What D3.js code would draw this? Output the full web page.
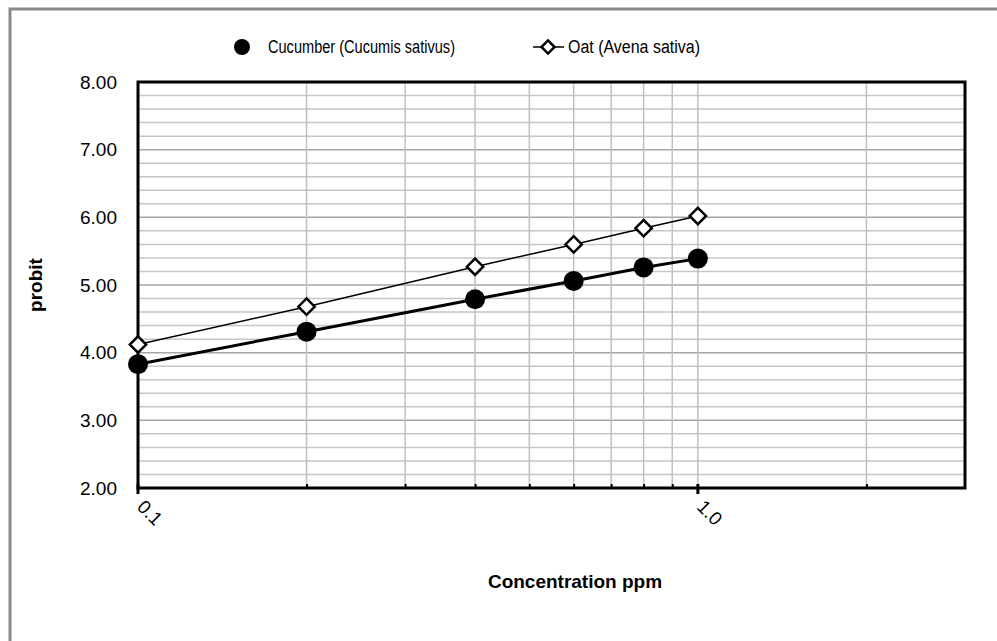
<!DOCTYPE html>
<html>
<head>
<meta charset="utf-8">
<script src="https://cdn.jsdelivr.net/npm/d3@7"></script>
<style>
    body { margin: 0; background: #fff; }
    text { font-family: Arial, 'Liberation Sans', sans-serif; }
</style>
</head>
<body>
<script>

const concentration = [0.1, 0.2, 0.4, 0.6, 0.8, 1.0]
const cucumber = [3.83, 4.31, 4.79, 5.06, 5.26, 5.39]
const oat = [4.12, 4.68, 5.27, 5.60, 5.84, 6.02]
const seriesNames = ['Cucumber (Cucumis sativus)', 'Oat (Avena  sativa)']
const xLabels = [0.1, 1.0]
const xGrid = [0.2, 0.3, 0.4, 0.5, 0.6, 0.7, 0.8, 0.9, 1, 2]
const yTicks = [2, 3, 4, 5, 6, 7, 8]

const width = 997
const height = 641
const m = { left: 138, right: 965, top: 82, bottom: 488 }

const svg = d3.select('body').append('svg')
    .attr('width', width)
    .attr('height', height)

// outer chart frame
svg.append('rect')
    .attr('x', 10).attr('y', 9)
    .attr('width', 1000).attr('height', 650)
    .attr('fill', '#fff')
    .attr('stroke', '#8a8a8a')
    .attr('stroke-width', 3)

// Scales

const x = d3.scaleLog().domain([0.1, 3]).range([m.left, m.right])
const y = d3.scaleLinear().domain([2, 8]).range([m.bottom, m.top])

// Grid

const minorY = d3.range(2, 8.01, 0.2).filter(v => Math.abs(v - Math.round(v)) > 0.01)

svg.append('g').selectAll('line')
    .data(minorY)
    .join('line')
    .attr('x1', m.left).attr('x2', m.right)
    .attr('y1', d => y(d)).attr('y2', d => y(d))
    .attr('stroke', '#c6c6c6')
    .attr('stroke-width', 1.5)

svg.append('g').selectAll('line')
    .data(yTicks)
    .join('line')
    .attr('x1', m.left).attr('x2', m.right)
    .attr('y1', d => y(d)).attr('y2', d => y(d))
    .attr('stroke', '#a6a6a6')
    .attr('stroke-width', 1.5)

svg.append('g').selectAll('line')
    .data(xGrid)
    .join('line')
    .attr('x1', d => x(d)).attr('x2', d => x(d))
    .attr('y1', m.top).attr('y2', m.bottom)
    .attr('stroke', '#c0c0c0')
    .attr('stroke-width', 1.5)

// Axes

const xAxis = d3.axisBottom(x)
    .tickValues(xGrid.filter(d => d !== 1))
    .tickSize(-4)
    .tickFormat('')

svg.append('g')
    .attr('transform', `translate(0,${m.bottom})`)
    .call(xAxis)
    .call(g => g.select('.domain').remove())
    .call(g => g.selectAll('line').attr('stroke', '#000').attr('stroke-width', 2))

// major ticks crossing the axis
svg.append('g').selectAll('line')
    .data(xLabels)
    .join('line')
    .attr('x1', d => x(d)).attr('x2', d => x(d))
    .attr('y1', m.bottom - 4).attr('y2', m.bottom + 6)
    .attr('stroke', '#000')
    .attr('stroke-width', 3)

// plot border
svg.append('rect')
    .attr('x', m.left).attr('y', m.top)
    .attr('width', m.right - m.left)
    .attr('height', m.bottom - m.top)
    .attr('fill', 'none')
    .attr('stroke', '#000')
    .attr('stroke-width', 3)

svg.append('g').selectAll('text')
    .data(yTicks)
    .join('text')
    .attr('x', 117)
    .attr('y', d => y(d))
    .attr('dy', '0.35em')
    .attr('text-anchor', 'end')
    .attr('font-size', 19)
    .text(d => d.toFixed(2))

svg.append('g').selectAll('text')
    .data(xLabels)
    .join('text')
    .attr('transform', d => `translate(${x(d) - 2},${m.bottom + 20}) rotate(45)`)
    .attr('font-size', 19)
    .text(d => d.toFixed(1))

svg.append('text')
    .attr('x', 575)
    .attr('y', 588)
    .attr('text-anchor', 'middle')
    .attr('font-size', 19)
    .attr('font-weight', 'bold')
    .text('Concentration ppm')

svg.append('text')
    .attr('transform', `translate(42,${(m.top + m.bottom) / 2}) rotate(-90)`)
    .attr('text-anchor', 'middle')
    .attr('font-size', 19)
    .attr('font-weight', 'bold')
    .text('probit')

// Series

const line = vals => d3.line()
    .x((d, i) => x(concentration[i]))
    .y(d => y(d))(vals)

svg.append('path')
    .attr('d', line(cucumber))
    .attr('fill', 'none')
    .attr('stroke', '#000')
    .attr('stroke-width', 3)

svg.append('path')
    .attr('d', line(oat))
    .attr('fill', 'none')
    .attr('stroke', '#000')
    .attr('stroke-width', 1.5)

const diamond = d3.symbol().type(d3.symbolDiamond2).size(170)

svg.append('g').selectAll('path')
    .data(oat)
    .join('path')
    .attr('transform', (d, i) => `translate(${x(concentration[i])},${y(d)})`)
    .attr('d', diamond)
    .attr('fill', '#fff')
    .attr('stroke', '#000')
    .attr('stroke-width', 2.5)

svg.append('g').selectAll('circle')
    .data(cucumber)
    .join('circle')
    .attr('cx', (d, i) => x(concentration[i]))
    .attr('cy', d => y(d))
    .attr('r', 10)
    .attr('fill', '#000')

// Legend (condensed text, as in the original)

const legend = svg.append('g').attr('transform', 'translate(0,47)')

legend.append('circle')
    .attr('cx', 242).attr('cy', 0).attr('r', 8)
    .attr('fill', '#000')

legend.append('text')
    .attr('x', 268).attr('dy', '0.35em')
    .attr('font-size', 18)
    .attr('textLength', 187)
    .attr('lengthAdjust', 'spacingAndGlyphs')
    .text(seriesNames[0])

legend.append('line')
    .attr('x1', 533).attr('x2', 564)
    .attr('stroke', '#000').attr('stroke-width', 1.5)

legend.append('path')
    .attr('transform', 'translate(548,0)')
    .attr('d', d3.symbol().type(d3.symbolDiamond2).size(110))
    .attr('fill', '#fff')
    .attr('stroke', '#000')
    .attr('stroke-width', 2.5)

legend.append('text')
    .attr('x', 568).attr('dy', '0.35em')
    .attr('font-size', 18)
    .attr('textLength', 132)
    .attr('lengthAdjust', 'spacingAndGlyphs')
    .text(seriesNames[1])

</script>
</body>
</html>
